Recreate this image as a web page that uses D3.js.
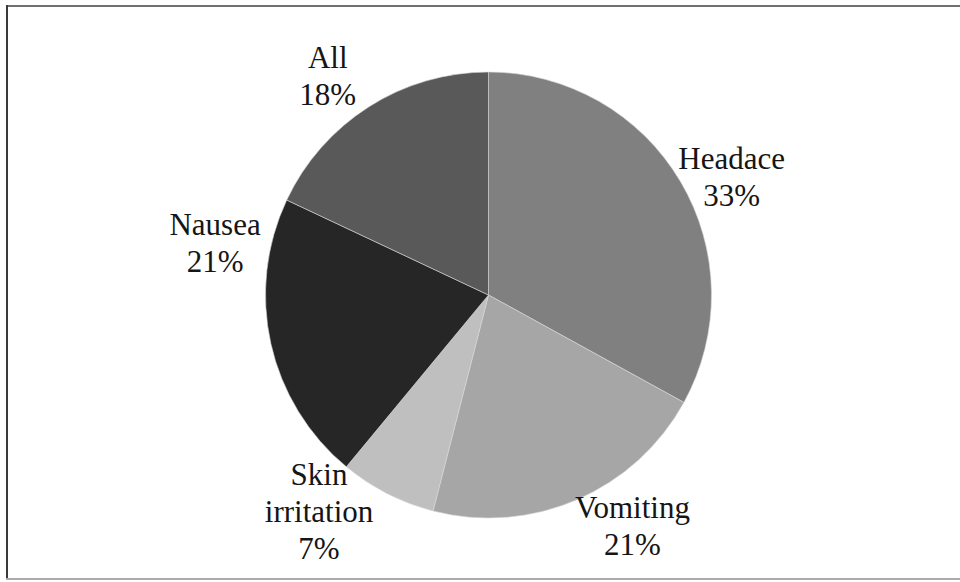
<!DOCTYPE html>
<html>
<head>
<meta charset="utf-8">
<script src="https://cdn.jsdelivr.net/npm/d3@7"></script>
<style>
  html, body { margin: 0; padding: 0; background: #fff; }
  svg { display: block; }
  text.lbl { font-family: "Liberation Serif", Tinos, "Times New Roman", Times, "DejaVu Serif", serif; }
</style>
</head>
<body>
<svg id="chart" width="960" height="582"></svg>
<script>
// ---- data ----
const categories = ["Headace", "Vomiting", "Skin irritation", "Nausea", "All"];
const values = [33, 21, 7, 21, 18];
const labelLines = [["Headace", "33%"], ["Vomiting", "21%"], ["Skin", "irritation", "7%"], ["Nausea", "21%"], ["All", "18%"]];
const sliceColors = ["#808080", "#a6a6a6", "#bfbfbf", "#262626", "#595959"];
// label layout nudges (px) relative to the slice centroid at label radius
const labelNudge = [[9, 12], [36, -27], [-46, -52], [-8, -119], [-15, 3]];

// ---- layout ----
const W = 960, H = 582;
const cx = 488.5, cy = 295, R = 223, labelR = 272, lineH = 37;

const svg = d3.select("#chart");

// frame
const frame = svg.append("g");
frame.append("line").attr("x1", 6).attr("x2", W).attr("y1", 6).attr("y2", 6)
  .attr("stroke", "#707070").attr("stroke-width", 2);
frame.append("line").attr("x1", 7).attr("x2", 7).attr("y1", 5).attr("y2", 580)
  .attr("stroke", "#3a3a3a").attr("stroke-width", 2);
frame.append("line").attr("x1", 6).attr("x2", W).attr("y1", 579).attr("y2", 579)
  .attr("stroke", "#ababab").attr("stroke-width", 2);

const data = categories.map((c, i) => ({ name: c, value: values[i], i }));
const pie = d3.pie().value(d => d.value).sort(null);
const arcs = pie(data);
const arc = d3.arc().innerRadius(0).outerRadius(R);
const labelArc = d3.arc().innerRadius(labelR).outerRadius(labelR);

const g = svg.append("g").attr("transform", `translate(${cx},${cy})`);
g.selectAll("path.slice").data(arcs).enter().append("path")
  .attr("class", "slice")
  .attr("d", arc)
  .attr("fill", d => sliceColors[d.data.i])
  .attr("stroke", "#d8d8d8")
  .attr("stroke-width", 0.6);

g.selectAll("text.lbl").data(arcs).enter().append("text")
  .attr("class", "lbl")
  .attr("text-anchor", "middle")
  .attr("font-size", 31)
  .attr("fill", "#151515")
  .each(function(d) {
    const [x, y] = labelArc.centroid(d);
    const [nx, ny] = labelNudge[d.data.i];
    const t = d3.select(this);
    labelLines[d.data.i].forEach((line, k) => {
      t.append("tspan").attr("x", x + nx).attr("y", y + ny + k * lineH).text(line);
    });
  });
</script>
</body>
</html>
